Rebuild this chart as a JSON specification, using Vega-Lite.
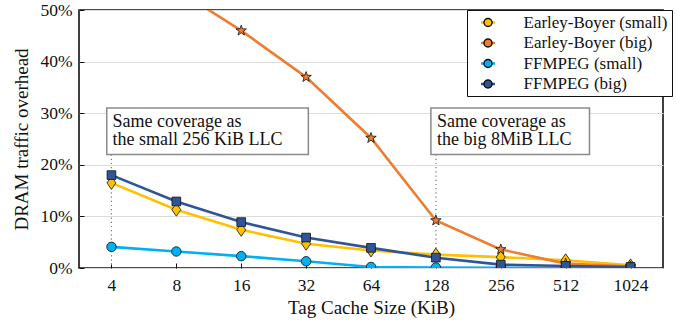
{
  "$schema": "https://vega.github.io/schema/vega-lite/v6.json",
  "width": 584,
  "height": 258,
  "autosize": "none",
  "padding": {"left": 79, "top": 10, "right": 14, "bottom": 54},
  "background": "white",
  "config": {
    "font": "serif",
    "view": {"stroke": "#111", "strokeWidth": 1.6},
    "axis": {"labelColor": "#111", "titleColor": "#111", "titleFontWeight": "normal", "domain": false, "tickColor": "#111", "tickWidth": 1}
  },
  "datasets": {
    "overhead": [
      {"size": "4", "series": "Earley-Boyer (small)", "overhead": 16.5},
      {"size": "8", "series": "Earley-Boyer (small)", "overhead": 11.3},
      {"size": "16", "series": "Earley-Boyer (small)", "overhead": 7.4},
      {"size": "32", "series": "Earley-Boyer (small)", "overhead": 4.7},
      {"size": "64", "series": "Earley-Boyer (small)", "overhead": 3.4},
      {"size": "128", "series": "Earley-Boyer (small)", "overhead": 2.6},
      {"size": "256", "series": "Earley-Boyer (small)", "overhead": 2.1},
      {"size": "512", "series": "Earley-Boyer (small)", "overhead": 1.5},
      {"size": "1024", "series": "Earley-Boyer (small)", "overhead": 0.5},
      {"size": "4", "series": "Earley-Boyer (big)", "overhead": 62},
      {"size": "8", "series": "Earley-Boyer (big)", "overhead": 54},
      {"size": "16", "series": "Earley-Boyer (big)", "overhead": 46},
      {"size": "32", "series": "Earley-Boyer (big)", "overhead": 37},
      {"size": "64", "series": "Earley-Boyer (big)", "overhead": 25.2},
      {"size": "128", "series": "Earley-Boyer (big)", "overhead": 9.2},
      {"size": "256", "series": "Earley-Boyer (big)", "overhead": 3.6},
      {"size": "512", "series": "Earley-Boyer (big)", "overhead": 0.85},
      {"size": "1024", "series": "Earley-Boyer (big)", "overhead": 0.3},
      {"size": "4", "series": "FFMPEG (small)", "overhead": 4.1},
      {"size": "8", "series": "FFMPEG (small)", "overhead": 3.2},
      {"size": "16", "series": "FFMPEG (small)", "overhead": 2.3},
      {"size": "32", "series": "FFMPEG (small)", "overhead": 1.3},
      {"size": "64", "series": "FFMPEG (small)", "overhead": 0.2},
      {"size": "128", "series": "FFMPEG (small)", "overhead": 0.1},
      {"size": "256", "series": "FFMPEG (small)", "overhead": 0.05},
      {"size": "512", "series": "FFMPEG (small)", "overhead": 0.05},
      {"size": "1024", "series": "FFMPEG (small)", "overhead": 0.05},
      {"size": "4", "series": "FFMPEG (big)", "overhead": 18.0},
      {"size": "8", "series": "FFMPEG (big)", "overhead": 12.9},
      {"size": "16", "series": "FFMPEG (big)", "overhead": 8.9},
      {"size": "32", "series": "FFMPEG (big)", "overhead": 5.9},
      {"size": "64", "series": "FFMPEG (big)", "overhead": 3.9},
      {"size": "128", "series": "FFMPEG (big)", "overhead": 2.0},
      {"size": "256", "series": "FFMPEG (big)", "overhead": 0.65},
      {"size": "512", "series": "FFMPEG (big)", "overhead": 0.4},
      {"size": "1024", "series": "FFMPEG (big)", "overhead": 0.2}
    ],
    "notes": [
      {"size": "4", "top": 31, "bottom": 22, "base": 27.4, "label": "Same coverage as\nthe small 256 KiB LLC"},
      {"size": "128", "top": 31, "bottom": 22, "base": 27.4, "label": "Same coverage as\nthe big 8MiB LLC"}
    ]
  },
  "encoding": {
    "x": {
      "field": "size", "type": "ordinal",
      "sort": ["4", "8", "16", "32", "64", "128", "256", "512", "1024"],
      "scale": {"type": "point", "padding": 0.5},
      "axis": {"title": "Tag Cache Size (KiB)", "labelAngle": 0, "labelFontSize": 17.5, "titleFontSize": 19, "tickSize": -5, "labelPadding": 13, "titlePadding": 5}
    }
  },
  "layer": [
    {
      "data": {"name": "notes"},
      "mark": {"type": "rule", "color": "#777", "strokeDash": [1.2, 3], "strokeWidth": 1.2},
      "encoding": {
        "y": {"field": "bottom", "type": "quantitative"},
        "y2": {"datum": 0}
      }
    },
    {
      "data": {"name": "overhead"},
      "mark": {"type": "line", "strokeWidth": 2.6, "clip": true},
      "encoding": {
        "y": {
          "field": "overhead", "type": "quantitative",
          "scale": {"domain": [0, 50], "nice": false},
          "axis": {
            "title": "DRAM traffic overhead", "values": [0, 5, 10, 15, 20, 25, 30, 35, 40, 45, 50],
            "labelExpr": "datum.value % 10 === 0 ? datum.value + '%' : ''",
            "grid": true, "gridColor": "#dcdcdc", "gridWidth": 1,
            "labelFontSize": 17.5, "titleFontSize": 19, "tickSize": -5, "labelPadding": 12, "titlePadding": 8
          }
        },
        "stroke": {
          "field": "series", "type": "nominal",
          "sort": ["Earley-Boyer (small)", "Earley-Boyer (big)", "FFMPEG (small)", "FFMPEG (big)"],
          "scale": {"range": ["#FFC000", "#ED7D31", "#00B0F0", "#2F5597"]},
          "legend": {
            "orient": "none", "legendX": 388, "legendY": 0, "title": null,
            "padding": 4, "symbolSize": 196, "symbolStrokeWidth": 2.5, "symbolOffset": 8.5,
            "labelOffset": 27, "labelFontSize": 17, "labelColor": "rgba(0,0,0,0)", "rowPadding": 2.5,
            "strokeColor": "#111", "fillColor": "white"
          }
        }
      }
    },
    {
      "data": {"name": "overhead"},
      "mark": {"type": "point", "filled": true, "opacity": 1, "size": 100, "stroke": "#111", "strokeWidth": 0.8, "clip": true},
      "encoding": {
        "y": {"field": "overhead", "type": "quantitative"},
        "fill": {
          "field": "series", "type": "nominal",
          "scale": {"domain": ["Earley-Boyer (small)", "Earley-Boyer (big)", "FFMPEG (small)", "FFMPEG (big)"], "range": ["#FFC000", "#ED7D31", "#00B0F0", "#2F5597"]},
          "legend": {
            "orient": "none", "legendX": 388, "legendY": 0, "title": null,
            "padding": 4, "symbolSize": 64, "symbolOffset": 8.5, "symbolOpacity": 1,
            "labelOffset": 27, "labelFontSize": 17, "labelColor": "#111", "rowPadding": 2.5,
            "encode": {
              "symbols": {
                "stroke": {"value": "#111"},
                "strokeWidth": {"value": 0.8}
              }
            }
          }
        },
        "shape": {
          "field": "series", "type": "nominal",
          "legend": null,
          "scale": {"domain": ["FFMPEG (big)", "FFMPEG (small)", "Earley-Boyer (big)", "Earley-Boyer (small)"], "range": [
            "M-0.87,-0.87L0.87,-0.87L0.87,0.87L-0.87,0.87Z",
            "M-0.95,0A0.95,0.95,0,1,1,0.95,0A0.95,0.95,0,1,1,-0.95,0Z",
            "M0,-1.1L0.259,-0.356L1.046,-0.34L0.418,0.136L0.647,0.89L0,0.44L-0.647,0.89L-0.418,0.136L-1.046,-0.34L-0.259,-0.356Z",
            "M0,-1.3L0.9,0L0,1.3L-0.9,0Z"
          ]}
        }
      }
    },
    {
      "data": {"name": "notes"},
      "transform": [{"filter": "datum.size === '4'"}],
      "mark": {"type": "rect", "fill": "white", "stroke": "#8a8a8a", "strokeWidth": 1.5, "width": 201.6, "xOffset": 96.1},
      "encoding": {
        "y": {"field": "top", "type": "quantitative"},
        "y2": {"field": "bottom"}
      }
    },
    {
      "data": {"name": "notes"},
      "transform": [{"filter": "datum.size === '128'"}],
      "mark": {"type": "rect", "fill": "white", "stroke": "#8a8a8a", "strokeWidth": 1.5, "width": 158.6, "xOffset": 74.3},
      "encoding": {
        "y": {"field": "top", "type": "quantitative"},
        "y2": {"field": "bottom"}
      }
    },
    {
      "data": {"name": "notes"},
      "mark": {"type": "text", "align": "left", "baseline": "alphabetic", "dx": 1, "fontSize": 18, "lineHeight": 18.3, "lineBreak": "\n", "color": "#111"},
      "encoding": {
        "y": {"field": "base", "type": "quantitative"},
        "text": {"field": "label"}
      }
    }
  ]
}
